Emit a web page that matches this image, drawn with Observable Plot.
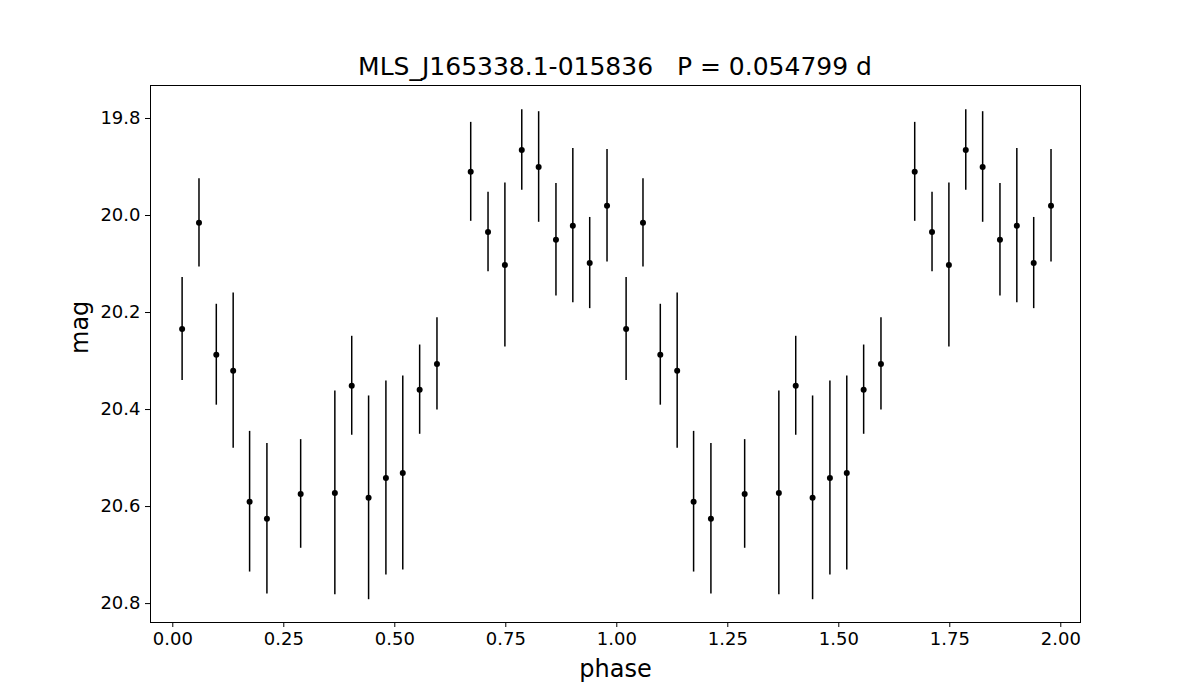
<!DOCTYPE html>
<html>
<head>
<meta charset="utf-8">
<script src="https://cdn.jsdelivr.net/npm/d3@7"></script>
<script src="https://cdn.jsdelivr.net/npm/@observablehq/plot@0.6"></script>
<style>
  body { margin: 0; background: #fff; font-family: "DejaVu Sans", sans-serif; }
  #wrap { width: 1200px; height: 700px; position: relative; }
  #title { position: absolute; left: 150px; width: 930px; top: 51px; text-align: center; z-index: 2;
           font-size: 25px; white-space: pre; color: #000; line-height: 1.3; }
  #chart { position: absolute; left: 0; top: 75px; z-index: 1; }
</style>
</head>
<body>
<div id="wrap">
  <div id="title">MLS_J165338.1-015836   P = 0.054799 d</div>
  <div id="chart"></div>
</div>
<script>
const titleText = "MLS_J165338.1-015836   P = 0.054799 d";
const phase = [0.021, 0.059, 0.098, 0.136, 0.173, 0.212, 0.288, 0.365, 0.403, 0.441, 0.480, 0.518,
               0.556, 0.595, 0.671, 0.710, 0.748, 0.786, 0.824, 0.863, 0.901, 0.939, 0.978];
const mag = [20.234, 20.015, 20.287, 20.320, 20.590, 20.625, 20.574, 20.572, 20.351, 20.582, 20.541, 20.531,
             20.359, 20.306, 19.910, 20.034, 20.102, 19.865, 19.900, 20.050, 20.021, 20.098, 19.980];
const magErr = [0.106, 0.091, 0.104, 0.160, 0.145, 0.155, 0.112, 0.210, 0.102, 0.210, 0.200, 0.200,
                0.092, 0.095, 0.102, 0.082, 0.169, 0.083, 0.114, 0.116, 0.159, 0.094, 0.116];
const xTicks = [0, 0.25, 0.5, 0.75, 1.0, 1.25, 1.5, 1.75, 2.0];
const yTicks = [19.8, 20.0, 20.2, 20.4, 20.6, 20.8];

// phase-folded light curve shown over two cycles
const cycles = [0, 1];
const data = cycles.flatMap(c => phase.map((p, i) => ({
  phase: p + c, mag: mag[i], lo: mag[i] - magErr[i], hi: mag[i] + magErr[i]
})));

const font = "DejaVu Sans, sans-serif";
const chart = Plot.plot({
  width: 1200,
  height: 625,
  marginLeft: 150,
  marginRight: 120,
  marginTop: 10,
  marginBottom: 78,
  style: { fontFamily: font, background: "transparent", color: "#000" },
  x: { domain: [-0.0502, 2.0444], ticks: xTicks, tickFormat: d3.format(".2f") },
  y: { domain: [19.732, 20.839], reverse: true, ticks: yTicks, tickFormat: d3.format(".1f") },
  marks: [
    Plot.axisX({ ticks: xTicks, tickFormat: d3.format(".2f"), tickSize: 5, tickPadding: 5,
                 fontSize: 18, label: null, stroke: "#000", color: "#000" }),
    Plot.axisY({ ticks: yTicks, tickFormat: d3.format(".1f"), tickSize: 5, tickPadding: 5,
                 fontSize: 18, label: null, stroke: "#000", color: "#000" }),
    Plot.ruleX(data, { x: "phase", y1: "lo", y2: "hi", stroke: "#000", strokeWidth: 1.5 }),
    Plot.dot(data, { x: "phase", y: "mag", r: 3, fill: "#000", stroke: null }),
    Plot.frame({ stroke: "#000", strokeWidth: 1 }),
    Plot.text(["mag"], { frameAnchor: "left", rotate: -90, dx: -70, fontSize: 24, fill: "#000" }),
    Plot.text(["phase"], { frameAnchor: "bottom", dy: 54, fontSize: 24, fill: "#000" })
  ]
});
document.getElementById("chart").appendChild(chart);
</script>
</body>
</html>
